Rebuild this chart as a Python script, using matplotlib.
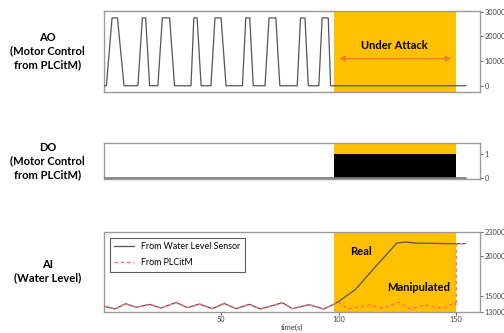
import matplotlib
matplotlib.use("Agg")
import matplotlib.pyplot as plt

# ---------------- data ----------------
ao_t = [0, 1.1, 3.5, 5.8, 8.6, 14.5, 16.4, 17.8, 19.5, 23.0, 24.9, 28.0, 30.1,
        37.1, 38.3, 39.7, 41.4, 45.6, 47.3, 49.9, 52.0, 59.0, 60.4, 62.1, 63.6,
        68.6, 70.3, 73.2, 74.9, 82.3, 83.7, 85.6, 87.0, 91.5, 92.9, 95.5, 96.5, 154]
ao_v = [0, 0, 27500, 27500, 0, 0, 27500, 27500, 0, 0, 27500, 27500, 0,
        0, 27500, 27500, 0, 0, 27500, 27500, 0, 0, 27500, 27500, 0,
        0, 27500, 27500, 0, 0, 27500, 27500, 0, 0, 27500, 27500, 0, 0]

do_t = [0, 98, 98, 150, 150, 154]
do_v = [0, 0, 1, 1, 0, 0]

sensor_t = [0, 4.7, 9.3, 13.8, 19.5, 24.4, 30.8, 35.5, 40.7, 46.3, 51.3, 56.2, 61.9,
            66.8, 76.0, 80.2, 87.3, 93.6, 97.2, 99.6, 107.1, 115.5, 124.7, 128.3,
            132.5, 146.6, 153.7]
sensor_v = [13700, 13340, 14000, 13550, 13920, 13460, 14170, 13500, 13960, 13380,
            14040, 13380, 13920, 13340, 14130, 13380, 13880, 13340, 13840, 14210,
            15800, 18620, 21620, 21750, 21620, 21550, 21550]

plc_t = [0, 4.7, 9.3, 13.8, 19.5, 24.4, 30.8, 35.5, 40.7, 46.3, 51.3, 56.2, 61.9,
         66.8, 76.0, 80.2, 87.3, 93.6, 97.2, 99.6, 104.2, 113.3, 119.0, 125.4,
         130.3, 136.7, 144.5, 149.4, 150, 150, 153.7]
plc_v = [13700, 13340, 14000, 13550, 13920, 13460, 14170, 13500, 13960, 13380,
         14040, 13380, 13920, 13340, 14130, 13380, 13880, 13340, 13840, 14210,
         13340, 13840, 13420, 14170, 13340, 13840, 13380, 14170, 13750, 21550, 21550]

attack_start, attack_end = 98, 150

ORANGE = "#FFC000"
ARROW = "#ED7D31"
SPINE = "#9a9a9a"
LINE = "#555555"
RED = "#FF7070"
LABEL_FONT = ["Lato", "DejaVu Sans"]

fig = plt.figure(figsize=(5.04, 3.33), dpi=100)
L, R = 0.206, 0.952
ax1 = fig.add_axes([L, 0.724, R - L, 0.243])
ax2 = fig.add_axes([L, 0.462, R - L, 0.108])
ax3 = fig.add_axes([L, 0.064, R - L, 0.239])

for ax in (ax1, ax2, ax3):
    ax.set_xlim(0, 160)
    ax.yaxis.tick_right()
    ax.tick_params(axis="both", labelsize=5.3, length=2, width=0.6,
                   colors="#444444", pad=1.2)
    for lab in ax.get_yticklabels() + ax.get_xticklabels():
        lab.set_family(LABEL_FONT)
    for s in ax.spines.values():
        s.set_color(SPINE)
        s.set_linewidth(1.0)
    ax.axvspan(attack_start, attack_end, color=ORANGE, lw=0, zorder=0)

# ---- AO ----
ax1.plot(ao_t, ao_v, color=LINE, lw=0.9, zorder=3)
ax1.set_ylim(-2500, 30300)
ax1.set_yticks([0, 10000, 20000, 30000])
ax1.set_xticks([])
ax1.annotate("", xy=(149, 11000), xytext=(99, 11000),
             arrowprops=dict(arrowstyle="<|-|>", color=ARROW, lw=1.0,
                             mutation_scale=8), zorder=4)
ax1.text(123.5, 16500, "Under Attack", ha="center", va="center",
         fontsize=8, fontweight="bold", family=LABEL_FONT, zorder=5)

# ---- DO ----
ax2.fill_between(do_t, 0, do_v, color="black", lw=0, zorder=2)
ax2.plot(do_t, [0] * len(do_t), color="#777777", lw=1.2, zorder=3)
ax2.set_ylim(-0.04, 1.44)
ax2.set_yticks([0, 1])
ax2.set_xticks([])

# ---- AI ----
ax3.plot(sensor_t, sensor_v, color=LINE, lw=0.9, zorder=3,
         label="From Water Level Sensor")
ax3.plot(plc_t, plc_v, color=RED, lw=1.0, ls=(0, (2.5, 2)), zorder=4,
         label="From PLCitM")
ax3.set_ylim(13000, 23000)
ax3.set_yticks([13000, 15000, 20000, 23000])
ax3.set_xticks([50, 100, 150])
for lab in ax3.get_yticklabels() + ax3.get_xticklabels():
    lab.set_family(LABEL_FONT)
ax3.set_xlabel("time(s)", fontsize=5.5, color="#333333", labelpad=0.5,
               family=LABEL_FONT)
leg = ax3.legend(loc="upper left", fontsize=6.2, frameon=True, fancybox=False,
                 borderpad=0.5, handlelength=2.2, labelspacing=0.8,
                 bbox_to_anchor=(0.004, 0.985), prop={"family": LABEL_FONT, "size": 6.4})
leg.get_frame().set_edgecolor("#333333")
leg.get_frame().set_linewidth(0.8)
ax3.text(105, 20500, "Real", ha="left", va="center", fontsize=8,
         fontweight="bold", family=LABEL_FONT, zorder=5)
ax3.text(134, 16100, "Manipulated", ha="center", va="center", fontsize=8,
         fontweight="bold", family=LABEL_FONT, zorder=5)

# ---- left labels ----
labels = [("AO\n(Motor Control\nfrom PLCitM)", 0.847),
          ("DO\n(Motor Control\nfrom PLCitM)", 0.517),
          ("AI\n(Water Level)", 0.186)]
for txt, y in labels:
    fig.text(0.094, y, txt, ha="center", va="center", fontsize=8,
             fontweight="bold", family=LABEL_FONT, linespacing=1.3)

fig.savefig("out.png", dpi=100)
